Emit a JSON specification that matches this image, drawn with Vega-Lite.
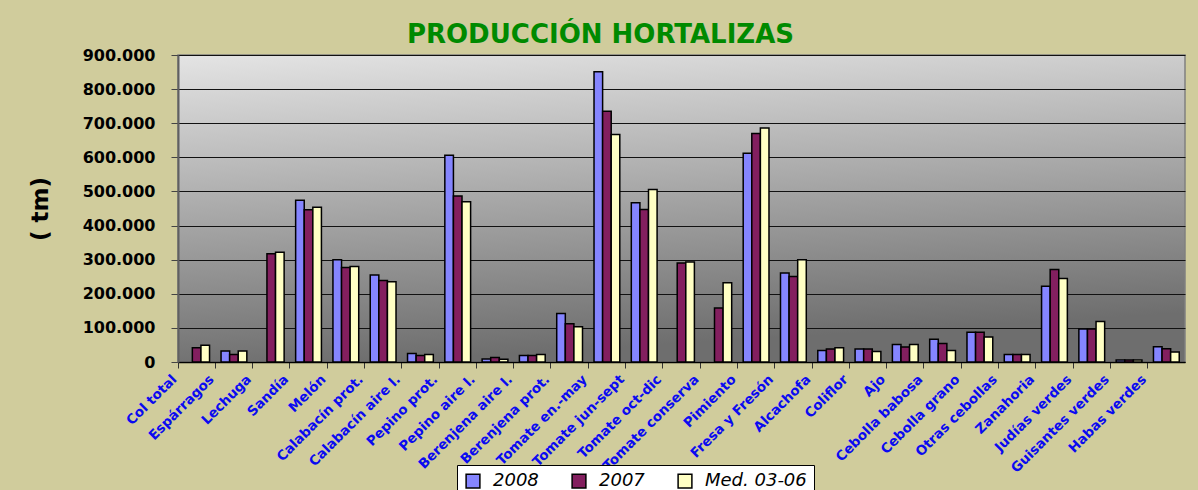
{
  "$schema": "https://vega.github.io/schema/vega-lite/v6.json",
  "width": 1007,
  "height": 307,
  "autosize": {"type": "none"},
  "padding": {"left": 178, "top": 55, "right": 13, "bottom": 128},
  "background": "#d0cc9c",
  "title": {
    "text": "PRODUCCIÓN HORTALIZAS",
    "font": "DejaVu Sans",
    "fontSize": 26,
    "fontWeight": "bold",
    "color": "#008a00",
    "anchor": "middle",
    "frame": "group",
    "dx": -81,
    "offset": -1
  },
  "config": {
    "locale": {"number": {"decimal": ",", "thousands": ".", "grouping": [3], "currency": ["", " €"]}},
    "view": {
      "stroke": "#808080",
      "strokeWidth": 1.5,
      "fill": {
        "gradient": "linear",
        "x1": 0, "y1": 0, "x2": 0.2, "y2": 1,
        "stops": [
          {"offset": 0, "color": "#e4e4e4"},
          {"offset": 1, "color": "#6e6e6e"}
        ]
      }
    }
  },
  "data": {
    "values": [
      {"cultivo": "Col total", "serie": "2007", "tm": 42000},
      {"cultivo": "Col total", "serie": "Med. 03-06", "tm": 49000},
      {"cultivo": "Espárragos", "serie": "2008", "tm": 32000},
      {"cultivo": "Espárragos", "serie": "2007", "tm": 22000},
      {"cultivo": "Espárragos", "serie": "Med. 03-06", "tm": 32000},
      {"cultivo": "Lechuga", "serie": "2007", "tm": 317000},
      {"cultivo": "Lechuga", "serie": "Med. 03-06", "tm": 322000},
      {"cultivo": "Sandía", "serie": "2008", "tm": 474000},
      {"cultivo": "Sandía", "serie": "2007", "tm": 446000},
      {"cultivo": "Sandía", "serie": "Med. 03-06", "tm": 454000},
      {"cultivo": "Melón", "serie": "2008", "tm": 300000},
      {"cultivo": "Melón", "serie": "2007", "tm": 277000},
      {"cultivo": "Melón", "serie": "Med. 03-06", "tm": 280000},
      {"cultivo": "Calabacín prot.", "serie": "2008", "tm": 255000},
      {"cultivo": "Calabacín prot.", "serie": "2007", "tm": 239000},
      {"cultivo": "Calabacín prot.", "serie": "Med. 03-06", "tm": 235000},
      {"cultivo": "Calabacín aire l.", "serie": "2008", "tm": 25000},
      {"cultivo": "Calabacín aire l.", "serie": "2007", "tm": 19000},
      {"cultivo": "Calabacín aire l.", "serie": "Med. 03-06", "tm": 22000},
      {"cultivo": "Pepino prot.", "serie": "2008", "tm": 606000},
      {"cultivo": "Pepino prot.", "serie": "2007", "tm": 487000},
      {"cultivo": "Pepino prot.", "serie": "Med. 03-06", "tm": 470000},
      {"cultivo": "Pepino aire l.", "serie": "2008", "tm": 9000},
      {"cultivo": "Pepino aire l.", "serie": "2007", "tm": 13000},
      {"cultivo": "Pepino aire l.", "serie": "Med. 03-06", "tm": 8000},
      {"cultivo": "Berenjena aire l.", "serie": "2008", "tm": 19000},
      {"cultivo": "Berenjena aire l.", "serie": "2007", "tm": 19000},
      {"cultivo": "Berenjena aire l.", "serie": "Med. 03-06", "tm": 22000},
      {"cultivo": "Berenjena prot.", "serie": "2008", "tm": 142000},
      {"cultivo": "Berenjena prot.", "serie": "2007", "tm": 112000},
      {"cultivo": "Berenjena prot.", "serie": "Med. 03-06", "tm": 103000},
      {"cultivo": "Tomate en.-may", "serie": "2008", "tm": 851000},
      {"cultivo": "Tomate en.-may", "serie": "2007", "tm": 735000},
      {"cultivo": "Tomate en.-may", "serie": "Med. 03-06", "tm": 667000},
      {"cultivo": "Tomate jun-sept", "serie": "2008", "tm": 467000},
      {"cultivo": "Tomate jun-sept", "serie": "2007", "tm": 447000},
      {"cultivo": "Tomate jun-sept", "serie": "Med. 03-06", "tm": 506000},
      {"cultivo": "Tomate oct-dic", "serie": "2007", "tm": 290000},
      {"cultivo": "Tomate oct-dic", "serie": "Med. 03-06", "tm": 293000},
      {"cultivo": "Tomate conserva", "serie": "2007", "tm": 158000},
      {"cultivo": "Tomate conserva", "serie": "Med. 03-06", "tm": 232000},
      {"cultivo": "Pimiento", "serie": "2008", "tm": 612000},
      {"cultivo": "Pimiento", "serie": "2007", "tm": 670000},
      {"cultivo": "Pimiento", "serie": "Med. 03-06", "tm": 686000},
      {"cultivo": "Fresa y Fresón", "serie": "2008", "tm": 261000},
      {"cultivo": "Fresa y Fresón", "serie": "2007", "tm": 251000},
      {"cultivo": "Fresa y Fresón", "serie": "Med. 03-06", "tm": 300000},
      {"cultivo": "Alcachofa", "serie": "2008", "tm": 34000},
      {"cultivo": "Alcachofa", "serie": "2007", "tm": 38000},
      {"cultivo": "Alcachofa", "serie": "Med. 03-06", "tm": 42000},
      {"cultivo": "Coliflor", "serie": "2008", "tm": 38000},
      {"cultivo": "Coliflor", "serie": "2007", "tm": 38000},
      {"cultivo": "Coliflor", "serie": "Med. 03-06", "tm": 31000},
      {"cultivo": "Ajo", "serie": "2008", "tm": 51000},
      {"cultivo": "Ajo", "serie": "2007", "tm": 44000},
      {"cultivo": "Ajo", "serie": "Med. 03-06", "tm": 51000},
      {"cultivo": "Cebolla babosa", "serie": "2008", "tm": 67000},
      {"cultivo": "Cebolla babosa", "serie": "2007", "tm": 54000},
      {"cultivo": "Cebolla babosa", "serie": "Med. 03-06", "tm": 34000},
      {"cultivo": "Cebolla grano", "serie": "2008", "tm": 87000},
      {"cultivo": "Cebolla grano", "serie": "2007", "tm": 87000},
      {"cultivo": "Cebolla grano", "serie": "Med. 03-06", "tm": 73000},
      {"cultivo": "Otras cebollas", "serie": "2008", "tm": 22000},
      {"cultivo": "Otras cebollas", "serie": "2007", "tm": 22000},
      {"cultivo": "Otras cebollas", "serie": "Med. 03-06", "tm": 22000},
      {"cultivo": "Zanahoria", "serie": "2008", "tm": 222000},
      {"cultivo": "Zanahoria", "serie": "2007", "tm": 271000},
      {"cultivo": "Zanahoria", "serie": "Med. 03-06", "tm": 245000},
      {"cultivo": "Judías verdes", "serie": "2008", "tm": 97000},
      {"cultivo": "Judías verdes", "serie": "2007", "tm": 97000},
      {"cultivo": "Judías verdes", "serie": "Med. 03-06", "tm": 119000},
      {"cultivo": "Guisantes verdes", "serie": "2008", "tm": 6000},
      {"cultivo": "Guisantes verdes", "serie": "2007", "tm": 6000},
      {"cultivo": "Guisantes verdes", "serie": "Med. 03-06", "tm": 6000},
      {"cultivo": "Habas verdes", "serie": "2008", "tm": 45000},
      {"cultivo": "Habas verdes", "serie": "2007", "tm": 39000},
      {"cultivo": "Habas verdes", "serie": "Med. 03-06", "tm": 29000}
    ]
  },
  "mark": {"type": "bar", "stroke": "black", "strokeWidth": 1.5, "opacity": 1},
  "encoding": {
    "x": {
      "field": "cultivo",
      "type": "nominal",
      "sort": null,
      "scale": {"paddingInner": 0, "paddingOuter": 0},
      "axis": {
        "title": null,
        "bandPosition": 0,
        "labelAngle": -45,
        "labelAlign": "right",
        "labelOffset": -27,
        "labelPadding": 4,
        "labelFont": "DejaVu Sans",
        "labelFontWeight": "bold",
        "labelFontSize": 13.5,
        "labelColor": "#0a0af0",
        "labelOverlap": false,
        "labelBound": false,
        "tickSize": 6,
        "tickColor": "#333333",
        "domainColor": "#000000",
        "domainWidth": 1.5,
        "grid": false
      }
    },
    "xOffset": {
      "field": "serie",
      "sort": ["2008", "2007", "Med. 03-06"],
      "scale": {"paddingInner": 0, "paddingOuter": 0.67}
    },
    "y": {
      "field": "tm",
      "type": "quantitative",
      "scale": {"domain": [0, 900000], "nice": false},
      "axis": {
        "title": "( tm)",
        "values": [0, 100000, 200000, 300000, 400000, 500000, 600000, 700000, 800000, 900000],
        "format": ",d",
        "labelFont": "DejaVu Sans",
        "labelFontSize": 16,
        "labelFontWeight": "bold",
        "labelColor": "#000000",
        "labelPadding": 16,
        "tickSize": 7,
        "tickColor": "#444444",
        "domainColor": "#606060",
        "domainWidth": 2,
        "gridColor": "#111111",
        "gridWidth": 1.2,
        "titleFont": "DejaVu Sans",
        "titleFontSize": 23,
        "titleFontWeight": "bold",
        "titleColor": "#000000",
        "titlePadding": 30
      }
    },
    "color": {
      "field": "serie",
      "type": "nominal",
      "scale": {"domain": ["2008", "2007", "Med. 03-06"], "range": ["#8585ff", "#831f5f", "#ffffc4"]},
      "legend": {
        "title": null,
        "orient": "none",
        "legendX": 279,
        "legendY": 410,
        "direction": "horizontal",
        "symbolType": "square",
        "symbolSize": 190,
        "symbolStrokeColor": "#000000",
        "symbolStrokeWidth": 1.5,
        "symbolOpacity": 1,
        "labelFont": "DejaVu Sans",
        "labelFontStyle": "italic",
        "labelFontSize": 18,
        "labelColor": "#000000",
        "labelOffset": 11,
        "columnPadding": 30,
        "fillColor": "#ffffff",
        "strokeColor": "#000000",
        "padding": 7
      }
    }
  }
}
